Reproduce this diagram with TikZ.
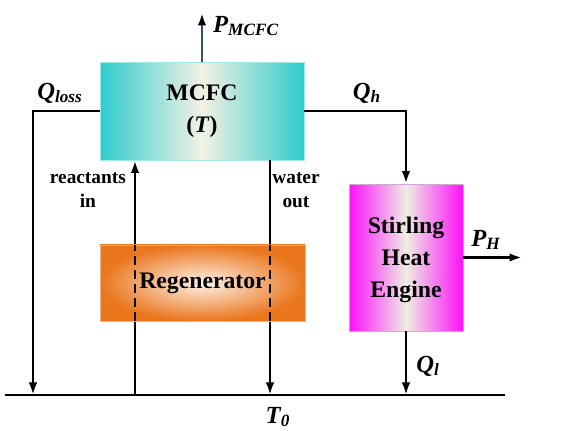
\documentclass[tikz,border=0pt]{standalone}
\usepackage{fontspec}
\setmainfont{Liberation Serif}
\usetikzlibrary{arrows.meta,positioning}
\definecolor{fcteal}{RGB}{46,204,206}
\definecolor{fccream}{RGB}{243,241,228}
\definecolor{regorange}{RGB}{234,118,30}
\definecolor{regpale}{RGB}{254,242,232}
\definecolor{stmagenta}{RGB}{252,16,250}
\definecolor{stpale}{RGB}{240,237,228}
\definecolor{powblue}{RGB}{50,78,122}

\begin{document}
\begin{tikzpicture}[x=0.02cm,y=-0.02cm,
  unitbox/.style={inner sep=0pt,align=center,font=\fontsize{13.5}{18}\selectfont\bfseries},
  fcbox/.style={unitbox,draw=fcteal!45,line width=0.5pt,left color=fcteal,right color=fcteal,middle color=fccream,minimum width=4.08cm,minimum height=1.96cm},
  regbox/.style={unitbox,draw=regorange!60,line width=0.5pt,inner color=regpale,outer color=regorange,minimum width=4.1cm,minimum height=1.52cm},
  stbox/.style={unitbox,draw=violet!35,line width=0.5pt,left color=stmagenta,right color=stmagenta,middle color=stpale,minimum width=2.28cm,minimum height=2.94cm},
  qlabel/.style={font=\fontsize{14}{16}\selectfont\bfseries\itshape},
  note/.style={align=center,font=\fontsize{11}{13.6}\selectfont\bfseries},
  arr/.style={-{Latex[length=2.5mm,width=1.7mm,black]},line width=1.4pt},
  thru/.style={line width=1.4pt,dash pattern=on 5.5pt off 2.5pt}
]
\useasboundingbox (0,0) rectangle (569,431);
\node[fcbox] (mcfc) at (202,111) {MCFC\\(\textit{T})};
\node[stbox] (stir) at (406,257.5) {};
\node[unitbox] (stirtext) at (406,260) {Stirling\\Heat\\Engine};
\coordinate (gl) at (5,395);
\coordinate (gr) at (505,395);
\coordinate (lossend) at (33,395);
\coordinate (rin) at (135,395);
\coordinate (wout) at (270,395);
\coordinate (ptop) at (202,13);
\coordinate (phend) at (522,257.5);
\draw[line width=1.4pt] (gl) -- (gr);
\draw[arr] (mcfc.west) -| (lossend);
\draw[arr] (mcfc.east) -| (stir.north);
\draw[arr,draw=powblue] (mcfc.north) -- (ptop);
\draw[arr] (stir.east) -- (phend);
\draw[arr] (stir.south) -- (stir.south |- gl);
\draw[arr] (rin) -- (rin |- mcfc.south);
\draw[arr] (wout |- mcfc.south) -- (wout);
\node[regbox] (regen) at (202.5,283) {Regenerator};
\draw[thru] (rin |- regen.south) -- (rin |- regen.north);
\draw[thru] (wout |- regen.south) -- (wout |- regen.north);
% labels
\node[qlabel,anchor=west] (pmcfc) at (207,26) {P\textsubscript{MCFC}};
\node[qlabel] (qloss) at (60,93) {Q\textsubscript{loss}};
\node[qlabel] (qh) at (367,93) {Q\textsubscript{h}};
\node[qlabel] (ph) at (486,240) {P\textsubscript{H}};
\node[qlabel] (ql) at (428,366) {Q\textsubscript{l}};
\node[qlabel] (t0) at (278,417) {T\textsubscript{0}};
\node[note,anchor=east] (reac) at (132,190) {reactants\\in};
\node[note] (wat) at (296,190) {water\\out};
\end{tikzpicture}
\end{document}
